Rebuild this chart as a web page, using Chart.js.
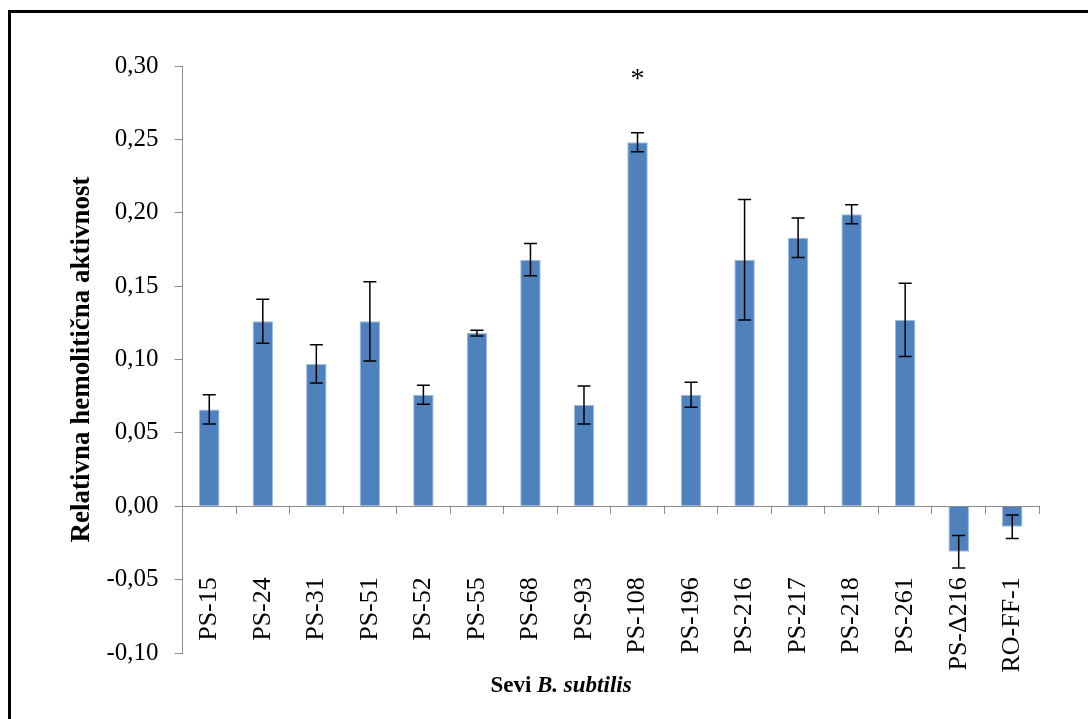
<!DOCTYPE html>
<html>
<head>
<meta charset="utf-8">
<title>Relativna hemolitična aktivnost</title>
<script src="https://cdn.jsdelivr.net/npm/chart.js@4.4.1/dist/chart.umd.min.js"></script>
<style>
  html, body { margin: 0; padding: 0; background: #fff; overflow: hidden; }
  #wrap { position: relative; width: 1088px; height: 719px; }
  #frame {
    position: absolute; left: 8px; top: 10px; width: 2000px; height: 2000px;
    border-left: 3px solid #000; border-top: 3px solid #000; pointer-events: none;
  }
  canvas { display: block; }
</style>
</head>
<body>
<div id="wrap">
  <canvas id="chart" width="1088" height="719"></canvas>
  <div id="frame"></div>
</div>
<script>
// Strains of B. subtilis
const categories = ['PS-15', 'PS-24', 'PS-31', 'PS-51', 'PS-52', 'PS-55', 'PS-68', 'PS-93',
  'PS-108', 'PS-196', 'PS-216', 'PS-217', 'PS-218', 'PS-261', 'PS-Δ216', 'RO-FF-1'];

// Mean relative haemolytic activity per strain
const activity = [0.066, 0.126, 0.097, 0.126, 0.076, 0.118, 0.168, 0.069,
  0.248, 0.076, 0.168, 0.183, 0.199, 0.127, -0.031, -0.014];

// Standard deviation (symmetric error bars)
const errors = [0.010, 0.015, 0.013, 0.027, 0.0065, 0.002, 0.011, 0.013,
  0.0065, 0.0085, 0.041, 0.0135, 0.0065, 0.025, 0.011, 0.008];

// Significance markers placed above the error bars
const significance = ['', '', '', '', '', '', '', '', '*', '', '', '', '', '', '', ''];

// Value axis range and step
const yMin = -0.10;
const yMax = 0.30;
const yStep = 0.05;

const SERIF = '"Liberation Serif", "Times New Roman", serif';

const errorBarsPlugin = {
  id: 'errorBars',
  afterDatasetsDraw(chart) {
    const ctx = chart.ctx;
    const meta = chart.getDatasetMeta(0);
    const y = chart.scales.y;
    ctx.save();
    ctx.strokeStyle = '#000';
    ctx.lineWidth = 1.5;
    const cap = 6.5;
    meta.data.forEach((bar, i) => {
      const top = y.getPixelForValue(activity[i] + errors[i]);
      const bottom = y.getPixelForValue(activity[i] - errors[i]);
      const x = bar.x;
      ctx.beginPath();
      ctx.moveTo(x, top); ctx.lineTo(x, bottom);
      ctx.moveTo(x - cap, top); ctx.lineTo(x + cap, top);
      ctx.moveTo(x - cap, bottom); ctx.lineTo(x + cap, bottom);
      ctx.stroke();
    });
    ctx.fillStyle = '#000';
    ctx.font = '28px ' + SERIF;
    ctx.textAlign = 'center';
    ctx.textBaseline = 'alphabetic';
    significance.forEach((mark, i) => {
      if (!mark) return;
      const top = y.getPixelForValue(activity[i] + errors[i]);
      ctx.fillText(mark, meta.data[i].x, top - 46);
    });
    ctx.restore();
  }
};

// Category axis title with the species name in italics
const xTitlePlugin = {
  id: 'xTitle',
  afterDraw(chart) {
    const ctx = chart.ctx;
    const partA = 'Sevi ';
    const partB = 'B. subtilis';
    const fontA = 'bold 23px ' + SERIF;
    const fontB = 'italic bold 23px ' + SERIF;
    ctx.save();
    ctx.fillStyle = '#000';
    ctx.textBaseline = 'alphabetic';
    ctx.textAlign = 'left';
    ctx.font = fontA;
    const wA = ctx.measureText(partA).width;
    ctx.font = fontB;
    const wB = ctx.measureText(partB).width;
    const cx = 561;
    const baseline = 692;
    let x = cx - (wA + wB) / 2;
    ctx.font = fontA;
    ctx.fillText(partA, x, baseline);
    ctx.font = fontB;
    ctx.fillText(partB, x + wA, baseline);
    ctx.restore();
  }
};

function draw() {
  new Chart(document.getElementById('chart'), {
    type: 'bar',
    data: {
      labels: categories,
      datasets: [{
        data: activity,
        backgroundColor: '#4f81bd',
        borderColor: '#9fbbe0',
        borderWidth: 1,
        barPercentage: 0.383,
        categoryPercentage: 1
      }]
    },
    options: {
      responsive: false,
      animation: false,
      layout: { padding: { left: 66, top: 66, right: 49, bottom: 66 } },
      plugins: { legend: { display: false }, tooltip: { enabled: false } },
      scales: {
        x: {
          position: { y: 0 },
          grid: { display: true, drawOnChartArea: false, offset: true, tickLength: 7, color: '#8c8c8c', lineWidth: 1 },
          border: { display: true, color: '#8c8c8c', width: 1 },
          ticks: {
            autoSkip: false, minRotation: 90, maxRotation: 90, padding: 64,
            color: '#000', font: { family: SERIF, size: 26 }
          },
          afterFit(scale) {
            scale.height = 0;
            scale.paddingLeft = 0;
            scale.paddingRight = 0;
          }
        },
        y: {
          min: yMin,
          max: yMax,
          grid: { drawOnChartArea: false, tickLength: 8, color: '#8c8c8c', lineWidth: 1 },
          border: { color: '#8c8c8c', width: 1 },
          ticks: {
            stepSize: yStep, padding: 16, color: '#000',
            font: { family: SERIF, size: 25 },
            callback: (v) => Number(v).toFixed(2).replace('.', ',')
          },
          title: {
            display: true, text: 'Relativna hemolitična aktivnost', color: '#000',
            font: { family: SERIF, size: 27, weight: 'bold' }, padding: 0
          },
          afterFit(scale) { scale.width = 116.5; }
        }
      }
    },
    plugins: [errorBarsPlugin, xTitlePlugin]
  });
}

if (document.fonts && document.fonts.load) {
  Promise.all([
    document.fonts.load('26px "Liberation Serif"'),
    document.fonts.load('bold 26px "Liberation Serif"'),
    document.fonts.load('italic bold 24px "Liberation Serif"')
  ]).then(draw, draw);
} else {
  draw();
}
</script>
</body>
</html>
